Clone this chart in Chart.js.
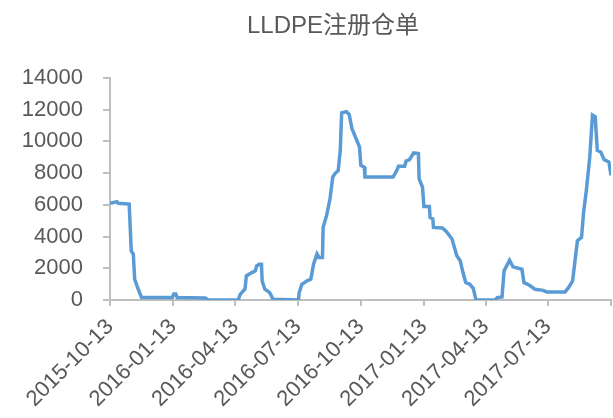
<!DOCTYPE html>
<html>
<head>
<meta charset="utf-8">
<script src="https://cdn.jsdelivr.net/npm/chart.js@4.4.0/dist/chart.umd.min.js"></script>
<style>
  html, body { margin: 0; padding: 0; background: #ffffff; overflow: hidden; width: 613px; height: 418px; }
  #wrap { position: relative; width: 613px; height: 460px; }
</style>
</head>
<body>
<div id="wrap"><canvas id="c" width="613" height="460"></canvas></div>
<script>
const chartTitle = "LLDPE注册仓单";
const baseDate = "2015-10-13";
const tickDates = ["2015-10-13","2016-01-13","2016-04-13","2016-07-13","2016-10-13","2017-01-13","2017-04-13","2017-07-13","2017-10-13"];
const tickLabels = ["2015-10-13","2016-01-13","2016-04-13","2016-07-13","2016-10-13","2017-01-13","2017-04-13","2017-07-13",""];
const yTicks = [0,2000,4000,6000,8000,10000,12000,14000];

const dates = [
  "2015-10-13","2015-10-23","2015-10-25","2015-11-10","2015-11-13","2015-11-16","2015-11-18","2015-11-23","2015-11-28",
  "2016-01-12","2016-01-14","2016-01-17","2016-01-19","2016-02-29","2016-03-04","2016-04-17","2016-04-20","2016-04-27",
  "2016-04-29","2016-05-07","2016-05-12","2016-05-14","2016-05-18","2016-05-21","2016-05-22","2016-05-26","2016-06-02",
  "2016-06-07","2016-07-14","2016-07-15","2016-07-19","2016-07-26","2016-08-01","2016-08-05","2016-08-10","2016-08-13",
  "2016-08-18","2016-08-19","2016-08-24","2016-08-29","2016-09-02","2016-09-05","2016-09-10","2016-09-13","2016-09-15",
  "2016-09-22","2016-09-26","2016-09-30","2016-10-04","2016-10-11","2016-10-13","2016-10-18","2016-10-19","2016-11-29",
  "2016-12-04","2016-12-07","2016-12-16","2016-12-18","2016-12-23","2016-12-29","2017-01-05","2017-01-06","2017-01-11",
  "2017-01-13","2017-01-21","2017-01-22","2017-01-26","2017-01-27","2017-02-09","2017-02-15","2017-02-23","2017-03-02",
  "2017-03-07","2017-03-11","2017-03-15","2017-03-21","2017-03-26","2017-03-30","2017-04-27","2017-04-30","2017-05-07",
  "2017-05-10","2017-05-18","2017-05-23","2017-06-05","2017-06-08","2017-06-16","2017-06-24","2017-07-06","2017-07-11",
  "2017-08-07","2017-08-12","2017-08-18","2017-08-25","2017-08-31","2017-09-03","2017-09-07","2017-09-12","2017-09-16",
  "2017-09-20","2017-09-23","2017-09-28","2017-10-03","2017-10-10","2017-10-13"
];
const registeredReceipts = [
  6100,6200,6100,6050,3100,2900,1300,700,150,
  150,380,380,150,120,20,0,360,700,
  1520,1730,1840,2150,2260,2260,1200,680,460,
  40,0,460,990,1200,1310,2260,2900,2680,
  2680,4580,5320,6380,7750,7960,8170,9440,11800,
  11870,11700,10810,10390,9650,8490,8380,7750,7750,
  8130,8430,8430,8760,8850,9270,9230,7650,7110,
  5890,5890,5210,5110,4580,4540,4310,3850,2790,
  2470,1730,1100,990,740,0,0,150,190,
  1840,2510,2090,1940,1100,930,680,610,510,
  510,780,1200,3740,3950,5530,6900,9010,11660,
  11550,9440,9330,8850,8700,7860
];

function dayOffset(s) {
  const p = s.split("-").map(Number);
  const b = baseDate.split("-").map(Number);
  return Math.round((Date.UTC(p[0], p[1]-1, p[2]) - Date.UTC(b[0], b[1]-1, b[2])) / 86400000);
}

const points = dates.map((d, i) => ({ x: dayOffset(d), y: registeredReceipts[i] }));
const tickValues = tickDates.map(dayOffset);

const FONT = "'Liberation Sans', Arial, 'Noto Sans CJK SC', sans-serif";
const TXT = "#595959";
const AXIS = "#bfbfbf";

// Title drawn as canvas text, horizontally offset like the original (centred over the plot region)
const offsetTitle = {
  id: "offsetTitle",
  afterDraw(chart) {
    const ctx = chart.ctx;
    ctx.save();
    ctx.fillStyle = TXT;
    ctx.font = "24px " + FONT;
    ctx.textAlign = "center";
    ctx.textBaseline = "middle";
    ctx.fillText(chartTitle, 333, 26);
    ctx.restore();
  }
};

new Chart(document.getElementById("c"), {
  type: "line",
  data: {
    datasets: [{
      label: chartTitle,
      data: points,
      borderColor: "#5b9bd5",
      backgroundColor: "#5b9bd5",
      borderWidth: 3.5,
      pointRadius: 0,
      tension: 0,
      fill: false
    }]
  },
  options: {
    responsive: false,
    animation: false,
    devicePixelRatio: 1,
    layout: { padding: { left: 0, right: 2, top: 78, bottom: 0 } },
    plugins: {
      legend: { display: false },
      tooltip: { enabled: false },
      title: { display: false }
    },
    scales: {
      x: {
        type: "linear",
        min: tickValues[0],
        max: tickValues[tickValues.length - 1],
        afterBuildTicks: (scale) => { scale.ticks = tickValues.map(v => ({ value: v })); },
        afterFit: (scale) => { scale.height = 160; scale.paddingRight = 0; scale.paddingLeft = 0; },
        ticks: {
          autoSkip: false,
          minRotation: 45,
          maxRotation: 45,
          color: TXT,
          padding: 8,
          font: { family: FONT, size: 22 },
          callback: (v, i) => tickLabels[i] !== undefined ? tickLabels[i] : ""
        },
        grid: { display: true, drawOnChartArea: false, drawTicks: true, tickLength: 6, color: AXIS, lineWidth: 2 },
        border: { display: true, color: AXIS, width: 2 }
      },
      y: {
        min: yTicks[0],
        max: yTicks[yTicks.length - 1],
        afterBuildTicks: (scale) => { scale.ticks = yTicks.map(v => ({ value: v })); },
        afterFit: (scale) => { scale.width = 110; },
        ticks: {
          color: TXT,
          padding: 20,
          font: { family: FONT, size: 22 },
          callback: (v) => String(v)
        },
        grid: { display: true, drawOnChartArea: false, drawTicks: true, tickLength: 7, color: AXIS, lineWidth: 2 },
        border: { display: true, color: AXIS, width: 2 }
      }
    }
  },
  plugins: [offsetTitle]
});
</script>
</body>
</html>
